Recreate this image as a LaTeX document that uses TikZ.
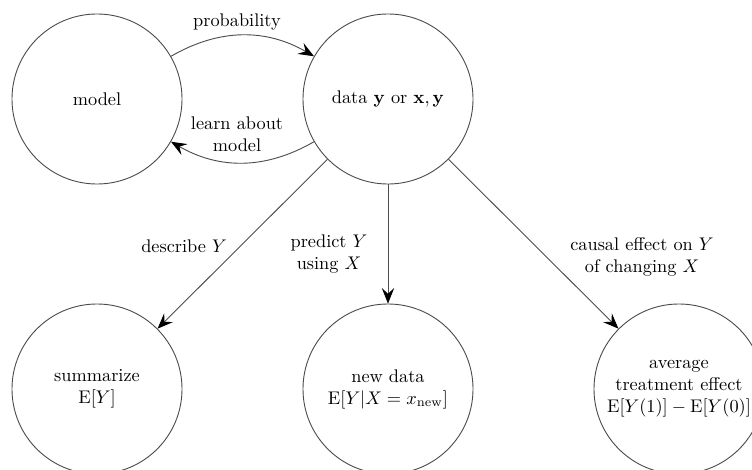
\documentclass[tikz,border=0pt]{standalone}
\usetikzlibrary{arrows.meta}
\begin{document}
\begin{tikzpicture}[x=0.5464pt,y=-0.5464pt,
  bubble/.style={circle,draw=black!70,line width=0.5pt,minimum size=92.9pt,inner sep=0pt,align=center},
  conn/.style={draw=black!70,line width=0.5pt,-{Stealth[length=8.5pt,width=6.8pt,inset=3.2pt,fill=black,color=black]}},
  lab/.style={align=center,inner sep=0pt}]
\useasboundingbox (0,0) rectangle (752,470);
\node[bubble] (model) at (97,99) {model};
\node[bubble] (data) at (388,99) {data $\mathbf{y}$ or $\mathbf{x},\mathbf{y}$};
\node[bubble] (summ) at (97,389) {summarize\\$\mathrm{E}[Y]$};
\node[bubble] (new) at (388,389) {new data\\$\mathrm{E}[Y|X=x_{\mathrm{new}}]$};
\node[bubble] (ate) at (679,389) {average\\treatment effect\\$\mathrm{E}[Y(1)]-\mathrm{E}[Y(0)]$};
\draw[conn] (model.30) to[bend left=30] (data.150);
\draw[conn] (data.210) to[bend left=30] (model.330);
\node[lab] (lprob) at (237,22) {probability};
\node[lab] (llearn) at (237,134) {learn about\\model};
\draw[conn] (data) -- (summ);
\draw[conn] (data) -- (new);
\draw[conn] (data) -- (ate);
\node[lab] (ldesc) at (184,246) {describe $Y$};
\node[lab] (lpred) at (329,254) {predict $Y$\\using $X$};
\node[lab] (lcaus) at (642,257) {causal effect on $Y$\\of changing $X$};
\end{tikzpicture}
\end{document}
